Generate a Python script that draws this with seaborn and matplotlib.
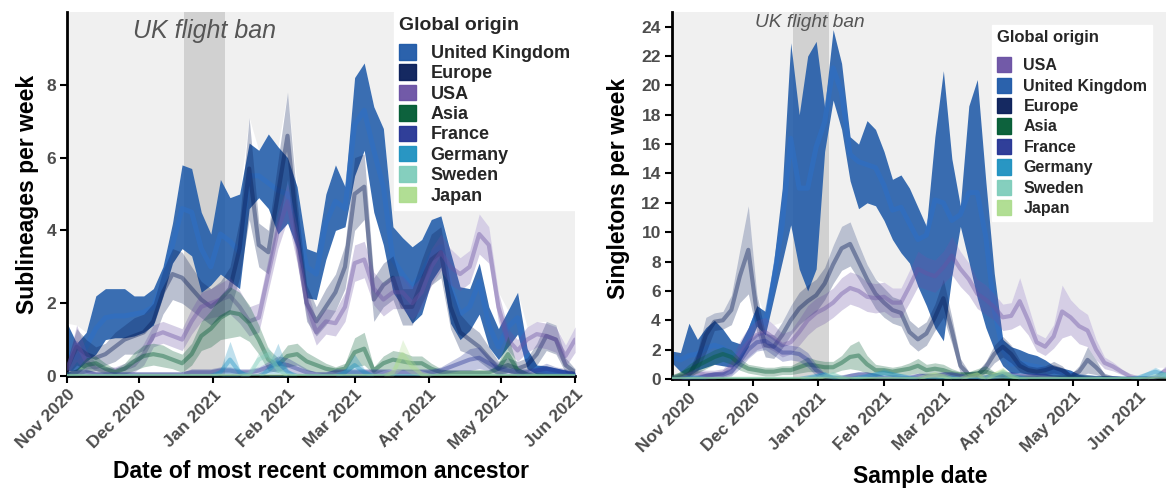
import numpy as np
import pandas as pd
import seaborn as sns
import matplotlib.pyplot as plt
from matplotlib.patches import Patch

# ---------------------------------------------------------------
# values, one value every 4 days
# left panel: date of TMRCA, from 1 Nov 2020 (54 points)
# right panel: sample date, from 24 Oct 2020 (60 points)
# ---------------------------------------------------------------
tmrca_dates = pd.date_range("2020-11-01", periods=54, freq="4D")
sample_dates = pd.date_range("2020-10-24", periods=60, freq="4D")

ban_start = pd.Timestamp("2020-12-20")
ban_end = pd.Timestamp("2021-01-06")

# --- left: sublineages per week ---
uk_mid_l = [0.6, 0.5, 0.8, 1.3, 1.6, 1.65, 1.65, 1.7, 1.75, 1.9,
            2.6, 3.6, 4.6, 4.5, 3.5, 3.0, 3.9, 3.7, 3.4, 5.5,
            5.5, 5.3, 5.1, 5.0, 4.3, 3.0, 2.8, 4.2, 4.8, 4.6,
            6.9, 7.3, 6.2, 5.2, 3.2, 2.8, 2.45, 2.8, 3.35, 3.55,
            2.45, 1.7, 1.9, 2.6, 1.4, 0.8, 1.35, 1.6, 0.45, 0.2,
            0.15, 0.12, 0.08, 0.05]
uk_lo_l = [0.15, 0.15, 0.4, 0.6, 1.0, 1.05, 1.05, 1.1, 1.2, 1.4,
           2.2, 3.1, 3.5, 3.3, 2.3, 2.5, 2.8, 2.6, 2.4, 4.6,
           4.9, 4.6, 3.9, 4.2, 3.5, 2.15, 2.1, 3.2, 4.0, 4.1,
           5.5, 6.2, 4.5, 3.6, 2.3, 1.9, 1.45, 1.7, 2.6, 3.0,
           1.45, 1.0, 1.25, 1.7, 0.8, 0.45, 0.8, 1.15, 0.2, 0.05,
           0.03, 0.02, 0.01, 0.0]
uk_hi_l = [1.45, 0.9, 1.2, 2.2, 2.4, 2.4, 2.4, 2.2, 2.2, 2.4,
           3.0, 4.2, 5.8, 5.7, 4.5, 3.9, 5.4, 4.9, 5.0, 6.4,
           6.2, 6.65, 6.3, 6.0, 5.2, 3.5, 3.4, 5.0, 5.8, 5.2,
           8.2, 8.6, 7.4, 6.8, 4.1, 3.8, 3.55, 3.75, 4.3, 4.4,
           3.4, 2.45, 2.4, 3.1, 1.9, 1.3, 1.8, 2.3, 0.75, 0.3,
           0.28, 0.22, 0.16, 0.08]

europe_mid_l = [0.2, 0.8, 0.6, 0.5, 0.6, 0.8, 1.0, 1.1, 1.2, 1.5,
                2.3, 2.8, 2.7, 2.4, 2.1, 1.9, 2.1, 2.4, 3.5, 5.7,
                3.6, 3.4, 5.0, 6.6, 4.0, 2.0, 1.5, 1.9, 2.3, 3.0,
                5.0, 5.2, 2.1, 2.5, 2.7, 1.9, 1.9, 2.6, 3.2, 3.4,
                1.9, 1.2, 1.0, 0.8, 0.5, 0.2, 0.3, 0.2, 0.3, 0.6,
                1.1, 1.0, 0.3, 0.1]
europe_hw_l = [0.2, 0.5, 0.4, 0.3, 0.3, 0.4, 0.4, 0.5, 0.5, 0.5,
               0.6, 0.7, 0.7, 0.6, 0.5, 0.5, 0.5, 0.6, 0.8, 1.4,
               0.6, 0.6, 0.9, 1.2, 0.8, 0.5, 0.4, 0.5, 0.5, 0.6,
               1.0, 0.9, 0.6, 0.6, 0.6, 0.5, 0.5, 0.6, 0.7, 0.7,
               0.6, 0.5, 0.4, 0.4, 0.3, 0.2, 0.2, 0.2, 0.2, 0.3,
               0.4, 0.4, 0.2, 0.1]

usa_mid_l = [0.2, 0.9, 0.4, 0.2, 0.15, 0.15, 0.2, 0.3, 0.6, 1.1,
             1.2, 1.1, 1.0, 1.5, 1.9, 2.0, 2.1, 2.2, 1.9, 1.5,
             1.6, 2.8, 4.0, 4.8, 3.6, 2.0, 1.2, 1.5, 1.45, 1.9,
             3.1, 3.2, 2.4, 2.1, 2.3, 2.3, 2.0, 2.3, 3.0, 3.4,
             3.0, 2.8, 3.0, 3.9, 3.6, 1.9, 1.0, 0.7, 1.0, 1.15,
             1.1, 1.0, 0.55, 1.0]
usa_hw_l = [0.15, 0.5, 0.3, 0.15, 0.1, 0.1, 0.15, 0.2, 0.3, 0.3,
            0.3, 0.3, 0.3, 0.35, 0.4, 0.4, 0.45, 0.5, 0.45, 0.4,
            0.4, 0.45, 0.5, 0.5, 0.5, 0.4, 0.35, 0.35, 0.35, 0.4,
            0.5, 0.5, 0.45, 0.45, 0.45, 0.45, 0.45, 0.45, 0.5, 0.5,
            0.5, 0.45, 0.45, 0.55, 0.5, 0.4, 0.3, 0.3, 0.35, 0.35,
            0.35, 0.35, 0.3, 0.35]

asia_mid_l = [0.05, 0.1, 0.3, 0.35, 0.2, 0.1, 0.2, 0.4, 0.55, 0.6,
              0.55, 0.45, 0.35, 0.6, 1.1, 1.3, 1.6, 1.75, 1.7, 1.45,
              1.0, 0.45, 0.3, 0.55, 0.6, 0.4, 0.3, 0.2, 0.15, 0.2,
              0.65, 0.75, 0.15, 0.35, 0.45, 0.4, 0.35, 0.35, 0.2, 0.1,
              0.1, 0.1, 0.1, 0.1, 0.1, 0.2, 0.6, 0.15, 0.05, 0.02,
              0.0, 0.0, 0.0, 0.0]
asia_hw_l = [0.05, 0.1, 0.2, 0.2, 0.15, 0.1, 0.15, 0.25, 0.3, 0.3,
             0.3, 0.25, 0.25, 0.3, 0.4, 0.5, 0.6, 0.7, 0.6, 0.5,
             0.4, 0.3, 0.2, 0.3, 0.3, 0.25, 0.2, 0.15, 0.1, 0.15,
             0.4, 0.45, 0.1, 0.2, 0.25, 0.25, 0.2, 0.2, 0.15, 0.1,
             0.05, 0.05, 0.05, 0.05, 0.05, 0.15, 0.5, 0.1, 0.05, 0.02,
             0.0, 0.0, 0.0, 0.0]

france_mid_l = [0.05, 0.1, 0.1, 0.05, 0.05, 0.05, 0.05, 0.05, 0.05, 0.05,
                0.05, 0.05, 0.05, 0.1, 0.1, 0.1, 0.15, 0.15, 0.1, 0.1,
                0.15, 0.25, 0.35, 0.3, 0.2, 0.1, 0.05, 0.05, 0.1, 0.1,
                0.1, 0.1, 0.1, 0.1, 0.1, 0.1, 0.1, 0.1, 0.1, 0.15,
                0.25, 0.35, 0.45, 0.5, 0.35, 0.2, 0.15, 0.1, 0.1, 0.15,
                0.2, 0.15, 0.1, 0.05]
france_hw_l = [0.05, 0.1, 0.1, 0.05, 0.05, 0.05, 0.05, 0.05, 0.05, 0.05,
               0.05, 0.05, 0.05, 0.1, 0.1, 0.1, 0.1, 0.1, 0.1, 0.1,
               0.1, 0.15, 0.2, 0.2, 0.15, 0.1, 0.05, 0.05, 0.1, 0.1,
               0.1, 0.1, 0.1, 0.1, 0.1, 0.1, 0.1, 0.1, 0.1, 0.1,
               0.15, 0.2, 0.3, 0.3, 0.2, 0.15, 0.1, 0.1, 0.1, 0.1,
               0.15, 0.1, 0.1, 0.05]

germany_mid_l = [0, 0, 0, 0, 0, 0, 0, 0, 0, 0,
                 0, 0, 0, 0, 0, 0, 0.1, 0.45, 0.1, 0,
                 0, 0.15, 0.4, 0.1, 0, 0, 0, 0, 0, 0.1,
                 0.3, 0.1, 0, 0, 0, 0, 0, 0, 0, 0,
                 0, 0, 0, 0, 0, 0, 0, 0, 0, 0,
                 0, 0, 0, 0]
germany_hw_l = [0, 0, 0, 0, 0, 0, 0, 0, 0, 0,
                0, 0, 0, 0, 0, 0, 0.1, 0.5, 0.1, 0,
                0, 0.15, 0.5, 0.1, 0, 0, 0, 0, 0, 0.1,
                0.3, 0.1, 0, 0, 0, 0, 0, 0, 0, 0,
                0, 0, 0, 0, 0, 0, 0, 0, 0, 0,
                0, 0, 0, 0]

sweden_mid_l = [0, 0, 0, 0, 0, 0, 0, 0, 0, 0,
                0, 0, 0, 0, 0, 0, 0, 0, 0, 0.05,
                0.45, 0.6, 0.2, 0, 0, 0, 0, 0, 0, 0,
                0, 0, 0, 0, 0, 0, 0, 0, 0, 0,
                0, 0, 0, 0, 0, 0, 0, 0, 0, 0,
                0, 0, 0, 0]
sweden_hw_l = [0, 0, 0, 0, 0, 0, 0, 0, 0, 0,
               0, 0, 0, 0, 0, 0, 0, 0, 0, 0.05,
               0.2, 0.2, 0.1, 0, 0, 0, 0, 0, 0, 0,
               0, 0, 0, 0, 0, 0, 0, 0, 0, 0,
               0, 0, 0, 0, 0, 0, 0, 0, 0, 0,
               0, 0, 0, 0]

japan_mid_l = [0, 0, 0, 0, 0, 0, 0, 0, 0, 0,
               0, 0, 0, 0, 0, 0, 0, 0, 0, 0,
               0, 0, 0, 0, 0, 0, 0, 0, 0, 0,
               0, 0, 0, 0, 0.1, 0.6, 0.25, 0.05, 0, 0,
               0, 0, 0, 0, 0, 0, 0, 0, 0, 0,
               0, 0, 0, 0]
japan_hw_l = [0, 0, 0, 0, 0, 0, 0, 0, 0, 0,
              0, 0, 0, 0, 0, 0, 0, 0, 0, 0,
              0, 0, 0, 0, 0, 0, 0, 0, 0, 0,
              0, 0, 0, 0, 0.1, 0.4, 0.2, 0.05, 0, 0,
              0, 0, 0, 0, 0, 0, 0, 0, 0, 0,
              0, 0, 0, 0]

# --- right: singletons per week ---
uk_mid_r = [1.5, 1.3, 1.6, 1.7, 2.1, 2.3, 2.1, 1.6, 1.7, 2.9,
            4.4, 3.8, 6.8, 10.5, 16.4, 13.0, 13.0, 15.8, 17.5, 21.2,
            19.5, 15.3, 14.8, 14.6, 14.4, 13.2, 11.5, 11.7, 10.6, 9.5,
            9.8, 12.2, 12.0, 10.8, 11.2, 12.7, 12.7, 9.7, 4.7, 2.0,
            1.0, 1.1, 0.95, 0.84, 0.7, 0.5, 0.43, 0.34, 0.16, 0.08,
            0.05, 0.03, 0.02, 0.0, 0.0, 0.0, 0.0, 0.0, 0.0, 0.0]
uk_lo_r = [1.1, 0.5, 0.2, 0.6, 0.8, 1.0, 0.9, 0.8, 1.2, 2.2,
           3.6, 3.0, 5.5, 8.0, 10.5, 7.5, 6.0, 7.5, 15.5, 19.0,
           17.0, 13.5, 11.6, 12.0, 11.8, 10.8, 9.5, 8.6, 7.9, 6.3,
           5.0, 3.5, 2.6, 7.0, 10.4, 8.0, 5.5, 3.5, 2.0, 0.9,
           0.4, 0.4, 0.35, 0.3, 0.25, 0.2, 0.15, 0.1, 0.05, 0.02,
           0.01, 0.0, 0.0, 0.0, 0.0, 0.0, 0.0, 0.0, 0.0, 0.0]
uk_hi_r = [1.9, 1.8, 3.8, 2.7, 3.5, 4.0, 3.4, 2.6, 2.4, 3.5,
           5.0, 4.6, 8.0, 13.0, 22.9, 18.0, 22.0, 23.0, 18.5, 23.8,
           21.5, 16.5, 16.0, 17.6, 17.0, 15.5, 13.6, 13.9, 13.0, 11.7,
           10.4, 16.5, 21.0, 15.0, 11.8, 18.6, 20.4, 13.5, 7.2, 2.7,
           2.2, 2.0, 1.75, 1.6, 1.3, 0.9, 0.75, 0.6, 0.3, 0.15,
           0.1, 0.08, 0.05, 0.02, 0.0, 0.0, 0.0, 0.0, 0.0, 0.0]

europe_mid_r = [0.0, 0.1, 0.3, 1.2, 3.0, 3.9, 4.0, 4.7, 7.0, 8.8,
                4.5, 2.3, 2.2, 3.0, 4.0, 4.8, 5.3, 5.7, 6.5, 7.8,
                8.9, 9.2, 8.0, 6.8, 5.8, 5.2, 4.7, 4.5, 3.2, 2.7,
                3.1, 4.2, 5.5, 3.3, 0.9, 0.3, 0.3, 0.8, 1.7, 2.2,
                1.7, 0.9, 0.6, 0.5, 0.6, 0.8, 0.6, 0.2, 0.5, 1.3,
                0.8, 0.2, 0.05, 0.0, 0.0, 0.0, 0.0, 0.0, 0.0, 0.0]
europe_hw_r = [0.0, 0.1, 0.3, 0.7, 1.2, 0.6, 0.6, 1.0, 1.8, 3.0,
               1.3, 0.8, 0.8, 0.9, 1.0, 1.1, 1.1, 1.1, 1.1, 1.3,
               1.5, 1.5, 1.2, 1.0, 1.0, 1.0, 0.9, 0.9, 0.8, 0.8,
               0.8, 0.9, 1.3, 0.9, 0.5, 0.2, 0.2, 0.4, 0.6, 0.7,
               0.6, 0.4, 0.3, 0.3, 0.3, 0.4, 0.3, 0.1, 0.4, 0.9,
               0.5, 0.1, 0.05, 0.0, 0.0, 0.0, 0.0, 0.0, 0.0, 0.0]

usa_mid_r = [0.1, 0.2, 0.3, 0.4, 0.3, 0.3, 0.4, 0.8, 1.8, 2.5,
             3.0, 3.2, 2.8, 2.3, 2.5, 3.2, 4.0, 4.5, 4.8, 5.2,
             5.8, 6.2, 6.0, 5.6, 5.5, 5.6, 5.2, 5.2, 6.3, 7.5,
             7.2, 7.0, 7.6, 8.4, 7.5, 6.8, 5.8, 5.4, 4.9, 4.2,
             4.3, 5.3, 4.0, 2.5, 2.2, 2.9, 4.6, 4.2, 3.6, 3.3,
             2.0, 1.1, 0.85, 0.5, 0.2, 0.05, 0.05, 0.1, 0.5, 0.8]
usa_hw_r = [0.1, 0.2, 0.3, 0.3, 0.3, 0.3, 0.3, 0.5, 0.8, 1.0,
            1.0, 1.0, 0.9, 0.8, 0.8, 0.9, 1.0, 1.0, 1.0, 1.0,
            1.1, 1.1, 1.1, 1.0, 1.0, 1.0, 1.0, 1.0, 1.1, 1.2,
            1.1, 1.1, 1.1, 1.3, 1.2, 1.1, 1.0, 1.0, 0.9, 0.9,
            0.9, 1.6, 1.0, 0.6, 0.6, 0.8, 1.8, 1.2, 1.2, 1.1,
            0.7, 0.4, 0.3, 0.2, 0.1, 0.05, 0.05, 0.1, 0.3, 0.4]

asia_mid_r = [0.1, 0.3, 0.6, 0.9, 1.2, 1.5, 1.7, 1.5, 1.0, 0.7,
              0.6, 0.5, 0.5, 0.6, 0.6, 0.8, 1.0, 0.9, 0.8, 0.8,
              1.1, 1.5, 1.6, 1.0, 0.6, 0.6, 0.5, 0.6, 0.7, 0.9,
              0.6, 0.7, 0.6, 0.4, 0.3, 0.3, 0.4, 0.5, 0.3, 0.2,
              0.1, 0.1, 0.1, 0.1, 0.1, 0.1, 0.1, 0.1, 0.1, 0.1,
              0.05, 0.05, 0.0, 0.0, 0.0, 0.0, 0.0, 0.0, 0.0, 0.0]
asia_hw_r = [0.1, 0.2, 0.4, 0.5, 0.5, 0.5, 0.5, 0.5, 0.4, 0.3,
             0.3, 0.3, 0.3, 0.3, 0.3, 0.4, 0.5, 0.4, 0.4, 0.4,
             0.5, 0.8, 1.0, 0.6, 0.4, 0.3, 0.3, 0.3, 0.4, 0.5,
             0.4, 0.4, 0.4, 0.3, 0.2, 0.2, 0.3, 0.4, 0.2, 0.1,
             0.1, 0.1, 0.1, 0.1, 0.1, 0.1, 0.1, 0.1, 0.1, 0.1,
             0.05, 0.05, 0.0, 0.0, 0.0, 0.0, 0.0, 0.0, 0.0, 0.0]

france_mid_r = [0, 0, 0.05, 0.1, 0.2, 0.3, 0.3, 0.5, 1.2, 2.0,
                2.5, 2.6, 2.2, 1.8, 1.8, 1.7, 1.3, 0.6, 0.2, 0.1,
                0.1, 0.2, 0.3, 0.3, 0.2, 0.1, 0.1, 0.1, 0.1, 0.2,
                0.2, 0.2, 0.3, 0.3, 0.2, 0.1, 0.1, 0.1, 0.2, 0.3,
                0.3, 0.2, 0.2, 0.2, 0.2, 0.1, 0.1, 0.1, 0.1, 0.1,
                0.05, 0.05, 0.05, 0, 0, 0, 0, 0, 0, 0]
france_hw_r = [0, 0, 0.05, 0.1, 0.2, 0.2, 0.2, 0.3, 0.5, 0.6,
               0.6, 0.6, 0.6, 0.6, 0.5, 0.5, 0.5, 0.4, 0.2, 0.1,
               0.1, 0.2, 0.2, 0.2, 0.2, 0.1, 0.1, 0.1, 0.1, 0.2,
               0.2, 0.2, 0.2, 0.2, 0.2, 0.1, 0.1, 0.1, 0.2, 0.2,
               0.2, 0.2, 0.2, 0.2, 0.2, 0.1, 0.1, 0.1, 0.1, 0.1,
               0.05, 0.05, 0.05, 0, 0, 0, 0, 0, 0, 0]

germany_mid_r = [0, 0, 0.1, 0.1, 0, 0, 0, 0, 0, 0,
                 0, 0, 0, 0, 0, 0, 0.1, 0.2, 0.3, 0.1,
                 0, 0, 0.1, 0.2, 0.3, 0.4, 0.3, 0.2, 0.1, 0,
                 0, 0, 0.1, 0.1, 0, 0, 0, 0.1, 0.2, 0.4,
                 0.2, 0.1, 0, 0, 0, 0, 0, 0, 0, 0,
                 0, 0, 0, 0, 0, 0.1, 0.3, 0.5, 0.3, 0.2]
germany_hw_r = [0, 0, 0.1, 0.1, 0, 0, 0, 0, 0, 0,
                0, 0, 0, 0, 0, 0, 0.1, 0.15, 0.2, 0.1,
                0, 0, 0.1, 0.15, 0.2, 0.3, 0.2, 0.15, 0.1, 0,
                0, 0, 0.1, 0.1, 0, 0, 0, 0.1, 0.15, 0.3,
                0.15, 0.1, 0, 0, 0, 0, 0, 0, 0, 0,
                0, 0, 0, 0, 0, 0.1, 0.2, 0.3, 0.2, 0.15]

sweden_mid_r = [0, 0, 0, 0, 0, 0, 0, 0, 0, 0,
                0, 0, 0, 0, 0, 0, 0, 0, 0.2, 0.3,
                0.1, 0, 0, 0, 0, 0, 0, 0, 0, 0,
                0, 0, 0, 0, 0, 0, 0, 0, 0, 0,
                0, 0, 0, 0, 0, 0, 0, 0, 0, 0,
                0, 0, 0, 0, 0, 0, 0, 0.2, 0.3, 0.1]
sweden_hw_r = [0, 0, 0, 0, 0, 0, 0, 0, 0, 0,
               0, 0, 0, 0, 0, 0, 0, 0, 0.1, 0.2,
               0.1, 0, 0, 0, 0, 0, 0, 0, 0, 0,
               0, 0, 0, 0, 0, 0, 0, 0, 0, 0,
               0, 0, 0, 0, 0, 0, 0, 0, 0, 0,
               0, 0, 0, 0, 0, 0, 0, 0.1, 0.2, 0.1]

japan_mid_r = [0, 0, 0, 0, 0, 0, 0, 0, 0, 0,
               0, 0, 0, 0, 0, 0, 0, 0, 0, 0,
               0, 0, 0, 0, 0, 0, 0, 0, 0, 0,
               0.2, 0.3, 0.2, 0, 0, 0.2, 0.3, 0, 0.3, 0.5,
               0.2, 0, 0, 0, 0, 0, 0, 0, 0, 0,
               0, 0, 0, 0, 0, 0, 0, 0, 0, 0]
japan_hw_r = [0, 0, 0, 0, 0, 0, 0, 0, 0, 0,
              0, 0, 0, 0, 0, 0, 0, 0, 0, 0,
              0, 0, 0, 0, 0, 0, 0, 0, 0, 0,
              0.1, 0.2, 0.1, 0, 0, 0.1, 0.2, 0, 0.2, 0.3,
              0.1, 0, 0, 0, 0, 0, 0, 0, 0, 0,
              0, 0, 0, 0, 0, 0, 0, 0, 0, 0]

colours = {
    "United Kingdom": "#1f5aa8",
    "Europe": "#081d58",
    "USA": "#6a51a3",
    "Asia": "#005a32",
    "France": "#253494",
    "Germany": "#1d91c0",
    "Sweden": "#7fcdbb",
    "Japan": "#addd8e",
}
legend_order_l = ["United Kingdom", "Europe", "USA", "Asia",
                  "France", "Germany", "Sweden", "Japan"]
legend_order_r = ["USA", "United Kingdom", "Europe", "Asia",
                  "France", "Germany", "Sweden", "Japan"]


def band(mid, hw):
    mid = np.asarray(mid, dtype=float)
    hw = np.asarray(hw, dtype=float)
    return mid - hw, mid, mid + hw


bands_l = {
    "United Kingdom": (np.array(uk_lo_l), np.array(uk_mid_l), np.array(uk_hi_l)),
    "Europe": band(europe_mid_l, europe_hw_l),
    "USA": band(usa_mid_l, usa_hw_l),
    "Asia": band(asia_mid_l, asia_hw_l),
    "France": band(france_mid_l, france_hw_l),
    "Germany": band(germany_mid_l, germany_hw_l),
    "Sweden": band(sweden_mid_l, sweden_hw_l),
    "Japan": band(japan_mid_l, japan_hw_l),
}
bands_r = {
    "United Kingdom": (np.array(uk_lo_r), np.array(uk_mid_r), np.array(uk_hi_r)),
    "Europe": band(europe_mid_r, europe_hw_r),
    "USA": band(usa_mid_r, usa_hw_r),
    "Asia": band(asia_mid_r, asia_hw_r),
    "France": band(france_mid_r, france_hw_r),
    "Germany": band(germany_mid_r, germany_hw_r),
    "Sweden": band(sweden_mid_r, sweden_hw_r),
    "Japan": band(japan_mid_r, japan_hw_r),
}

sns.set_theme(style="white")
plt.rcParams["font.family"] = ["Liberation Sans", "DejaVu Sans"]

fig = plt.figure(figsize=(11.66, 4.92), dpi=100)
ax_l = fig.add_axes([0.0575, 0.2358, 0.4357, 0.7398])
ax_r = fig.add_axes([0.5763, 0.2297, 0.4237, 0.7459])


def draw_panel(ax, dates, bands, underlay):
    ax.set_facecolor("#f0f0f0")
    # white underlay below the curves
    top = np.max([bands[n][2] for n in underlay], axis=0)
    ax.fill_between(dates, 0, top, color="white", lw=0, zorder=0.5)
    ax.axvspan(ban_start, ban_end, color="#c4c4c4", alpha=0.7, lw=0, zorder=0.8)
    for i, name in enumerate(legend_order_l):
        lo, mid, hi = bands[name]
        c = colours[name]
        if name == "United Kingdom":
            fa, la, lw, lc = 0.88, 0.6, 3.6, "#2d6fc6"
        else:
            fa, la, lw, lc = 0.28, 0.4, 3.0, c
        ax.fill_between(dates, lo, hi, color=c, alpha=fa, lw=0, zorder=2 + i)
        sns.lineplot(x=dates, y=mid, ax=ax, color=lc, alpha=la, lw=lw,
                     zorder=2.5 + i, legend=False)


draw_panel(ax_l, tmrca_dates, bands_l, legend_order_l)
draw_panel(ax_r, sample_dates, bands_r, legend_order_l[1:])

month_ticks = pd.date_range("2020-11-01", "2021-06-01", freq="MS")
month_labels = [d.strftime("%b %Y") for d in month_ticks]

ax_l.set_xlim(pd.Timestamp("2020-11-01"), pd.Timestamp("2021-06-01"))
ax_l.set_ylim(0, 10)
ax_l.set_yticks([0, 2, 4, 6, 8])
ax_r.set_xlim(pd.Timestamp("2020-10-24"), pd.Timestamp("2021-06-14"))
ax_r.set_ylim(0, 25)
ax_r.set_yticks(range(0, 25, 2))

for ax in (ax_l, ax_r):
    ax.grid(False)
    for s in ("top", "right"):
        ax.spines[s].set_visible(False)
    for s in ("left", "bottom"):
        ax.spines[s].set_linewidth(2)
        ax.spines[s].set_color("black")
    ax.set_xticks(month_ticks)
    ax.set_xticklabels(month_labels, rotation=45, ha="right", va="top",
                       rotation_mode="anchor", fontweight="bold")
    ax.tick_params(axis="both", bottom=True, left=True, length=5, width=1.5,
                   color="black", labelcolor="#4d4d4d", labelsize=12.5, pad=3)
    for lbl in ax.get_yticklabels():
        lbl.set_fontweight("bold")

ax_l.set_ylabel("Sublineages per week", fontsize=16.5, fontweight="bold", color="black")
ax_l.set_xlabel("Date of most recent common ancestor", fontsize=16.5,
                fontweight="bold", color="black")
ax_l.yaxis.set_label_coords(-0.055, 0.5)
ax_l.xaxis.set_label_coords(0.5, -0.232)

ax_r.set_ylabel("Singletons per week", fontsize=16.5, fontweight="bold", color="black")
ax_r.set_xlabel("Sample date", fontsize=16.5, fontweight="bold", color="black")
ax_r.yaxis.set_label_coords(-0.085, 0.52)
ax_r.xaxis.set_label_coords(0.502, -0.234)

ax_l.text(pd.Timestamp("2020-12-28 12:00"), 9.48, "UK flight ban", fontsize=18,
          style="italic", color="#555555", ha="center", va="center", zorder=15)
ax_r.text(pd.Timestamp("2020-12-28"), 24.27, "UK flight ban", fontsize=13.8,
          style="italic", color="#555555", ha="center", va="center", zorder=15)


def add_legend(ax, order, anchor, size, title_size, hh, hl, spacing, title_gap):
    handles = [Patch(facecolor=colours[n], edgecolor=colours[n], alpha=0.95, label=n)
               for n in order]
    leg = ax.legend(handles=handles, title="Global origin", loc="upper right",
                    bbox_to_anchor=anchor, borderaxespad=0, frameon=True,
                    fancybox=False, framealpha=1, facecolor="white",
                    edgecolor="white", prop={"weight": "bold", "size": size},
                    title_fontproperties={"weight": "bold", "size": title_size},
                    handlelength=hl, handleheight=hh, handletextpad=0.8,
                    labelspacing=spacing, borderpad=0.3, alignment="left")
    leg._legend_box.sep = title_gap
    leg.set_zorder(20)
    return leg


add_legend(ax_l, legend_order_l, (1.0, 1.0), 13, 14, 0.95, 0.95, 0.13, 7)
add_legend(ax_r, legend_order_r, (0.972, 0.965), 11.5, 12, 1.1, 0.85, 0.27, 9)

fig.savefig("out.png", dpi=100)
